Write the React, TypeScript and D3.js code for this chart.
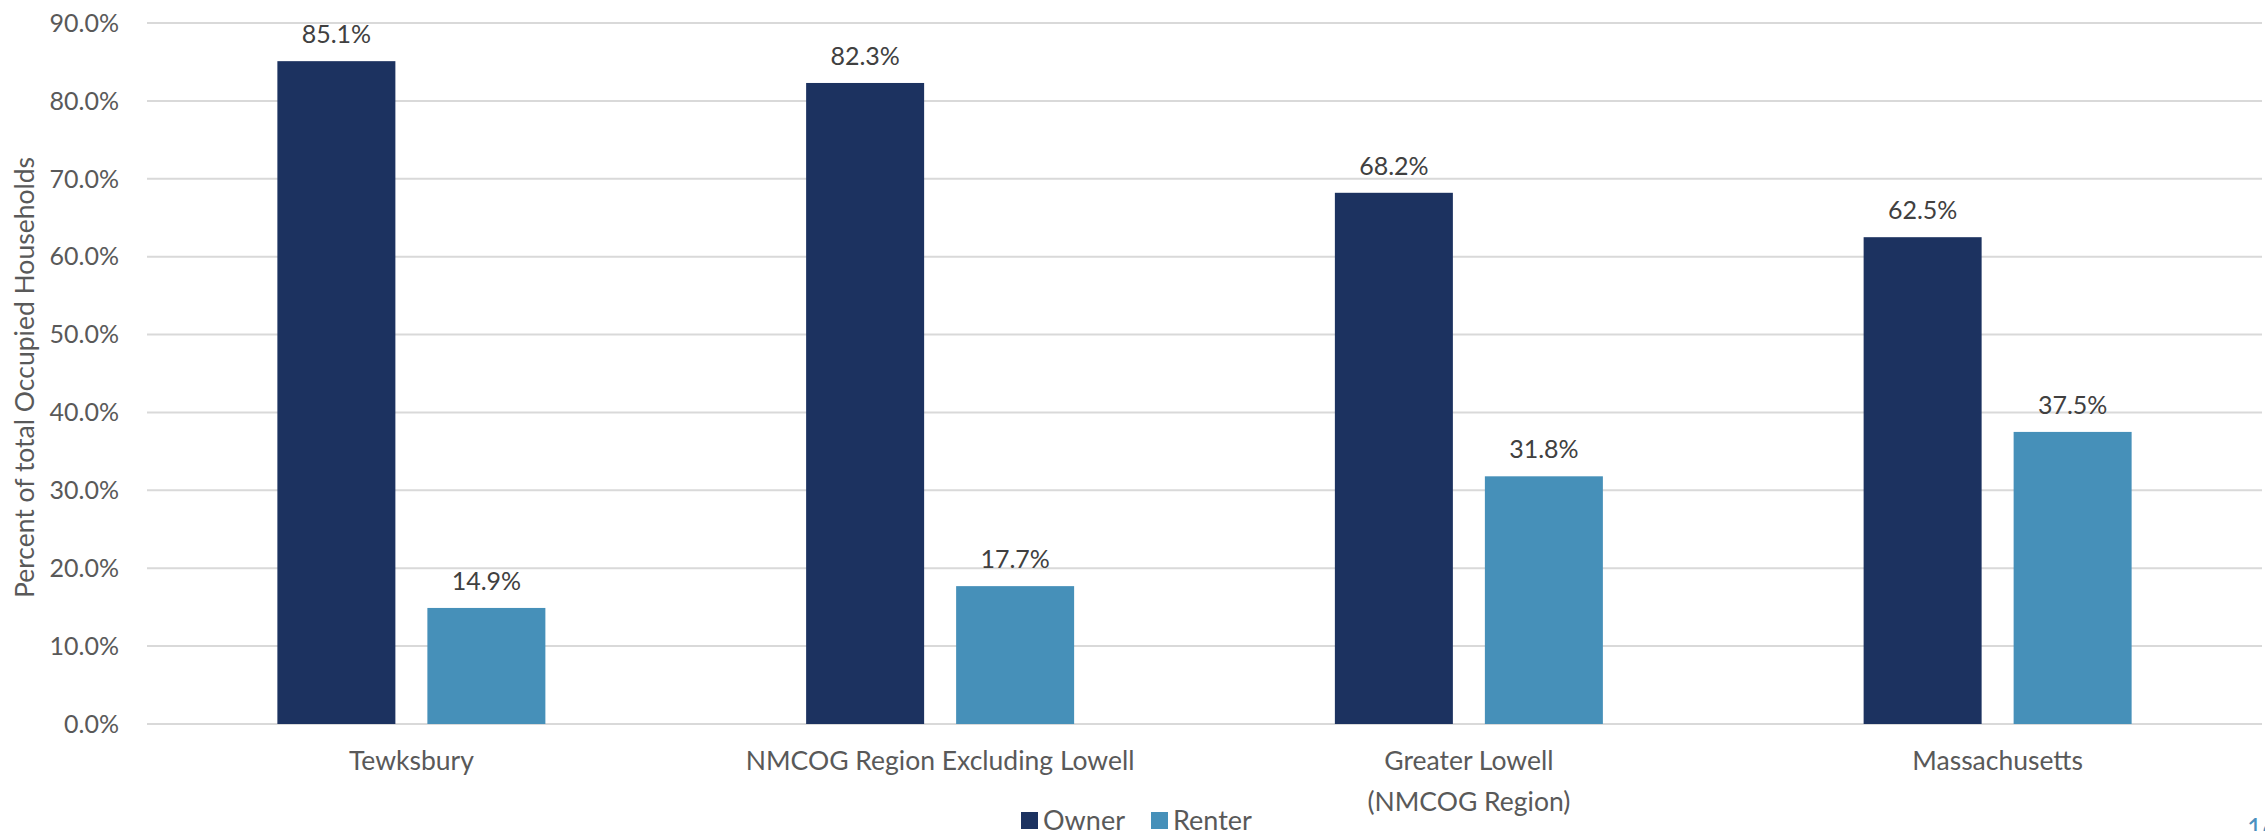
import React from "react";
import * as d3 from "d3";

const categories: string[][] = [
  ["Tewksbury"],
  ["NMCOG Region Excluding Lowell"],
  ["Greater Lowell", "(NMCOG Region)"],
  ["Massachusetts"],
];
const seriesNames = ["Owner", "Renter"];
const ownerValues = [85.1, 82.3, 68.2, 62.5];
const renterValues = [14.9, 17.7, 31.8, 37.5];
const yTicks = [0, 10, 20, 30, 40, 50, 60, 70, 80, 90];
const yTitle = "Percent of total Occupied Households";
const pageNumber = "16";

const colors: Record<string, string> = { Owner: "#1c3260", Renter: "#4690b9" };

const W = 2265;
const H = 831;
const plot = { left: 147, right: 2262, top: 23, bottom: 724 };
const FONT = "Lato, 'Open Sans', sans-serif";

export default function App() {
  const keys = categories.map((c) => c.join(" "));
  const x = d3.scaleBand<string>().domain(keys).range([plot.left, plot.right]).padding(0);
  const groupWidth = 268;
  const xs = d3
    .scaleBand<string>()
    .domain(seriesNames)
    .range([0, groupWidth])
    .paddingInner(32 / 150)
    .paddingOuter(0);
  const y = d3.scaleLinear().domain([0, 90]).range([plot.bottom, plot.top]);

  const values: Record<string, number[]> = { Owner: ownerValues, Renter: renterValues };

  return (
    <svg
      width={W}
      height={H}
      style={{ position: "absolute", left: 0, top: 0, background: "#fff" }}
      fontFamily={FONT}
    >
      {/* gridlines and y tick labels */}
      {yTicks.map((t) => (
        <g key={t}>
          <line
            x1={plot.left}
            x2={plot.right}
            y1={y(t)}
            y2={y(t)}
            stroke="#d9d9d9"
            strokeWidth={2}
          />
          <text
            x={119}
            y={y(t)}
            dy="0.35em"
            textAnchor="end"
            fontSize={25}
            fill="#595959"
          >
            {t.toFixed(1)}%
          </text>
        </g>
      ))}

      {/* y axis title */}
      <text
        transform={`translate(25, ${(plot.top + plot.bottom) / 2 + 4}) rotate(-90)`}
        textAnchor="middle"
        dy="0.35em"
        fontSize={26.5}
        fill="#595959"
      >
        {yTitle}
      </text>

      {/* bars with value labels */}
      {keys.map((k, i) => {
        const cx = (x(k) as number) + x.bandwidth() / 2;
        const gx = cx - groupWidth / 2;
        return (
          <g key={k}>
            {seriesNames.map((s) => {
              const v = values[s][i];
              const bx = gx + (xs(s) as number);
              const bw = xs.bandwidth();
              return (
                <g key={s}>
                  <rect
                    x={bx}
                    y={y(v)}
                    width={bw}
                    height={y(0) - y(v)}
                    fill={colors[s]}
                  />
                  <text
                    x={bx + bw / 2}
                    y={y(v) - 18}
                    textAnchor="middle"
                    fontSize={25}
                    fill="#404040"
                  >
                    {v.toFixed(1)}%
                  </text>
                </g>
              );
            })}
            {categories[i].map((line, j) => (
              <text
                key={j}
                x={cx}
                y={770 + j * 41}
                textAnchor="middle"
                fontSize={26.5}
                fill="#595959"
              >
                {line}
              </text>
            ))}
          </g>
        );
      })}

      {/* legend */}
      {seriesNames.map((s, i) => {
        const lx = i === 0 ? 1021 : 1151;
        return (
          <g key={s}>
            <rect x={lx} y={812} width={17} height={17} fill={colors[s]} />
            <text x={lx + 22} y={830} fontSize={27} fill="#595959">
              {s}
            </text>
          </g>
        );
      })}

      {/* page number */}
      <text x={2247} y={838} fontSize={26} fill="#4a90c0">
        {pageNumber}
      </text>
    </svg>
  );
}
